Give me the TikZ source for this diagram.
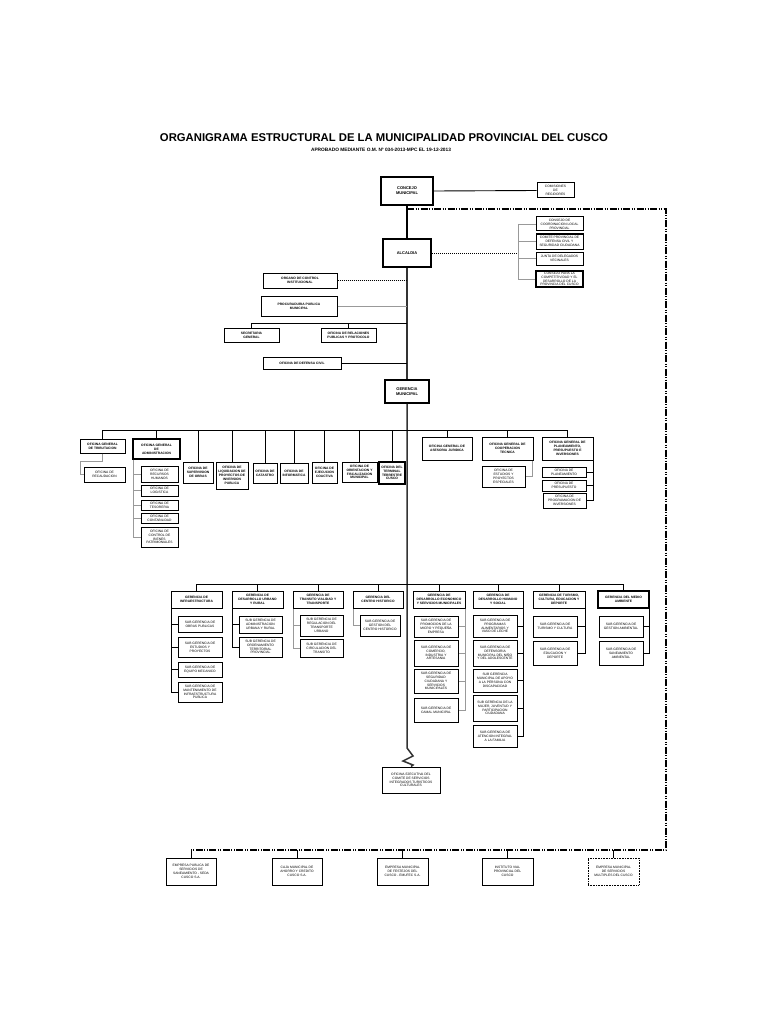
\documentclass[tikz,border=0pt]{standalone}
\usepackage{fontspec}
\setmainfont{Liberation Sans}
\newcommand{\bx}[7]{\node[#1, minimum width={(#5-#3)*1pt}, minimum height={(#6-#4)*1pt}] (#2) at ({(#3+#5)/2},{(#4+#6)/2}) {#7};}
\tikzset{
 bx/.style={draw=black, line width=1pt, inner sep=0pt, align=center, font=\fontsize{3.3}{3.9}\selectfont},
 bxb/.style={bx, font=\bfseries\fontsize{3.3}{3.9}\selectfont},
 bxl/.style={bx, font=\bfseries\fontsize{4}{4.8}\selectfont},
 thk/.style={line width=1.6pt},
 vthk/.style={line width=2.4pt},
 ln/.style={line width=0.9pt, draw=black},
 gln/.style={line width=0.9pt, draw=black!40},
 dd/.style={line width=1.1pt, dash pattern=on 7pt off 1.5pt on 1pt off 1.5pt on 1pt off 1.5pt},
 dotb/.style={bx, dash pattern=on 0.8pt off 0.8pt},
}
\begin{document}
\begin{tikzpicture}[x=1pt,y=-1pt]
\useasboundingbox (0,0) rectangle (768,1024);
\fill[white] (0,0) rectangle (768,1024);
% title
\node[font=\bfseries\fontsize{11.3}{13}\selectfont, inner sep=0pt] (title) at (384,138) {ORGANIGRAMA ESTRUCTURAL DE LA MUNICIPALIDAD PROVINCIAL DEL CUSCO};
\node[font=\bfseries\fontsize{4.8}{5}\selectfont, inner sep=0pt] (sub) at (381,150) {APROBADO MEDIANTE O.M. Nº 034-2013-MPC EL 19-12-2013};
% top
\bx{bxl,vthk}{conc}{381}{177}{433}{205}{CONCEJO\\MUNICIPAL}
\bx{bx}{com}{537}{183}{574}{198}{COMISIONES\\DE\\REGIDORES}
\bx{bxl,vthk}{alc}{383}{239}{431}{267}{ALCALDIA}
\bx{bx}{cA}{536}{217}{583}{231}{CONSEJO DE\\COORDINACION LOCAL\\PROVINCIAL}
\bx{bx}{cB}{536}{234}{583}{249}{COMITE PROVINCIAL DE\\DEFENSA CIVIL Y\\SEGURIDAD CIUDADANA}
\bx{bx}{cC}{536}{252}{583}{265}{JUNTA DE DELEGADOS\\VECINALES}
\bx{bx,thk}{cD}{536}{271}{583}{287}{CONSEJO PARA LA\\COMPETITIVIDAD Y EL\\DESARROLLO DE LA\\PROVINCIA DEL CUSCO}
\bx{bxb}{oci}{263}{273}{337}{288}{ORGANO DE CONTROL\\INSTITUCIONAL}
\bx{bxb}{proc}{261}{296}{337}{316}{PROCURADURIA PUBLICA\\MUNICIPAL}
\bx{bxb}{sec}{224}{328}{279}{342}{SECRETARIA\\GENERAL}
\bx{bxb}{orp}{321}{328}{376}{342}{OFICINA DE RELACIONES\\PUBLICAS Y PROTOCOLO}
\bx{bxb}{odc}{263}{357}{341}{369}{OFICINA DE DEFENSA CIVIL}
\bx{bxl,thk}{gm}{385}{380}{429}{403}{GERENCIA\\MUNICIPAL}
% oficinas
\bx{bxb}{trib}{80}{439}{125}{453}{OFICINA GENERAL\\DE TRIBUTACION}
\bx{bx}{rec}{84}{467}{125}{482}{OFICINA DE\\RECAUDACION}
\bx{bxb,thk}{adm}{133}{439}{180}{459}{OFICINA GENERAL\\DE\\ADMINISTRACION}
\bx{bx}{rh}{141}{466}{178}{482}{OFICINA DE\\RECURSOS\\HUMANOS}
\bx{bx}{log}{141}{485}{178}{496}{OFICINA DE\\LOGISTICA}
\bx{bx}{tes}{141}{500}{178}{510}{OFICINA DE\\TESORERIA}
\bx{bx}{cont}{141}{513}{178}{523}{OFICINA DE\\CONTABILIDAD}
\bx{bx}{cbp}{141}{527}{178}{547}{OFICINA DE\\CONTROL DE\\BIENES\\PATRIMONIALES}
\bx{bxb}{sup}{183}{462}{213}{483}{OFICINA DE\\SUPERVISION\\DE OBRAS}
\bx{bxb}{liq}{216}{462}{248}{489}{OFICINA DE\\LIQUIDACION DE\\PROYECTOS DE\\INVERSION\\PUBLICA}
\bx{bxb}{cat}{253}{463}{277}{483}{OFICINA DE\\CATASTRO}
\bx{bxb}{oinf}{280}{463}{308}{483}{OFICINA DE\\INFORMATICA}
\bx{bxb}{eje}{312}{462}{337}{483}{OFICINA DE\\EJECUCION\\COACTIVA}
\bx{bxb}{ori}{342}{462}{377}{482}{OFICINA DE\\ORIENTACION Y\\FISCALIZACION\\MUNICIPAL}
\bx{bxb,thk}{ter}{379}{462}{405}{484}{OFICINA DEL\\TERMINAL\\TERRESTRE\\CUSCO}
\bx{bxb}{jur}{422}{437}{472}{460}{OFICINA GENERAL DE\\ASESORIA JURIDICA}
\bx{bxb}{coop}{482}{437}{533}{460}{OFICINA GENERAL DE\\COOPERACION\\TECNICA}
\bx{bx}{est}{482}{466}{525}{487}{OFICINA DE\\ESTUDIOS Y\\PROYECTOS\\ESPECIALES}
\bx{bxb}{plan}{542}{437}{593}{460}{OFICINA GENERAL DE\\PLANEAMIENTO,\\PRESUPUESTO E\\INVERSIONES}
\bx{bx}{opl}{542}{467}{586}{477}{OFICINA DE\\PLANEAMIENTO}
\bx{bx}{opr}{542}{480}{586}{491}{OFICINA DE\\PRESUPUESTO}
\bx{bx}{opi}{543}{493}{586}{508}{OFICINA DE\\PROGRAMACION DE\\INVERSIONES}
% gerencias
\bx{bxb}{g1}{171}{591}{222}{608}{GERENCIA DE\\INFRAESTRUCTURA}
\bx{bxb}{g2}{232}{591}{283}{608}{GERENCIA DE\\DESARROLLO URBANO\\Y RURAL}
\bx{bxb}{g3}{293}{591}{343}{608}{GERENCIA DE\\TRANSITO VIALIDAD Y\\TRANSPORTE}
\bx{bxb}{g4}{353}{591}{403}{608}{GERENCIA DEL\\CENTRO HISTORICO}
\bx{bxb}{g5}{413}{591}{465}{608}{GERENCIA DE\\DESARROLLO ECONOMICO\\Y SERVICIOS MUNICIPALES}
\bx{bxb}{g6}{473}{591}{523}{608}{GERENCIA DE\\DESARROLLO HUMANO\\Y SOCIAL}
\bx{bxb}{g7}{533}{591}{585}{608}{GERENCIA DE TURISMO,\\CULTURA, EDUCACION Y\\DEPORTE}
\bx{bxb,thk}{g8}{598}{591}{649}{608}{GERENCIA DEL MEDIO\\AMBIENTE}
% sub gerencias
\bx{bx}{s11}{178}{616}{222}{632}{SUB GERENCIA DE\\OBRAS PUBLICAS}
\bx{bx}{s12}{178}{637}{222}{657}{SUB GERENCIA DE\\ESTUDIOS Y\\PROYECTOS}
\bx{bx}{s13}{178}{662}{222}{677}{SUB GERENCIA DE\\EQUIPO MECANICO}
\bx{bx}{s14}{178}{682}{222}{702}{SUB GERENCIA DE\\MANTENIMIENTO DE\\INFRAESTRUCTURA\\PUBLICA}
\bx{bx}{s21}{239}{616}{282}{633}{SUB GERENCIA DE\\ADMINISTRACION\\URBANA Y RURAL}
\bx{bx}{s22}{239}{637}{282}{657}{SUB GERENCIA DE\\ORDENAMIENTO\\TERRITORIAL\\PROVINCIAL}
\bx{bx}{s31}{300}{615}{343}{636}{SUB GERENCIA DE\\REGULACION DEL\\TRANSPORTE\\URBANO}
\bx{bx}{s32}{300}{639}{343}{657}{SUB GERENCIA DE\\CIRCULACION DEL\\TRANSITO}
\bx{bx}{s41}{360}{615}{400}{636}{SUB GERENCIA DE\\GESTION DEL\\CENTRO HISTORICO}
\bx{bx}{s51}{414}{616}{458}{637}{SUB GERENCIA DE\\PROMOCION DE LA\\MICRO Y PEQUEÑA\\EMPRESA}
\bx{bx}{s52}{414}{640}{458}{666}{SUB GERENCIA DE\\COMERCIO,\\INDUSTRIA Y\\ARTESANIA}
\bx{bx}{s53}{414}{669}{458}{693}{SUB GERENCIA DE\\SEGURIDAD\\CIUDADANA Y\\SERVICIOS\\MUNICIPALES}
\bx{bx}{s54}{414}{698}{458}{722}{SUB GERENCIA DE\\CAMAL MUNICIPAL}
\bx{bx}{s61}{473}{615}{517}{637}{SUB GERENCIA DE\\PROGRAMAS\\ALIMENTARIOS Y\\VASO DE LECHE}
\bx{bx}{s62}{473}{640}{517}{666}{SUB GERENCIA DE\\DEFENSORIA\\MUNICIPAL DEL NIÑO\\Y DEL ADOLESCENTE}
\bx{bx}{s63}{473}{669}{517}{692}{SUB GERENCIA\\MUNICIPAL DE APOYO\\A LA PERSONA CON\\DISCAPACIDAD}
\bx{bx}{s64}{473}{695}{517}{721}{SUB GERENCIA DE LA\\MUJER, JUVENTUD Y\\PARTICIPACION\\CIUDADANA}
\bx{bx}{s65}{473}{725}{517}{747}{SUB GERENCIA DE\\ATENCION INTEGRAL\\A LA FAMILIA}
\bx{bx}{s71}{533}{616}{577}{637}{SUB GERENCIA DE\\TURISMO Y CULTURA}
\bx{bx}{s72}{533}{641}{577}{665}{SUB GERENCIA DE\\EDUCACION Y\\DEPORTE}
\bx{bx}{s81}{599}{616}{643}{637}{SUB GERENCIA DE\\GESTION AMBIENTAL}
\bx{bx}{s82}{599}{641}{643}{665}{SUB GERENCIA DE\\SANEAMIENTO\\AMBIENTAL}
% bottom
\bx{bx}{ofe}{382}{767}{440}{793}{OFICINA EJECUTIVA DEL\\COMITE DE SERVICIOS\\INTEGRADOS TURISTICOS\\CULTURALES}
\bx{bx}{e1}{166}{858}{216}{885}{EMPRESA PUBLICA DE\\SERVICIOS DE\\SANEAMIENTO - SEDA\\CUSCO S.A.}
\bx{bx}{e2}{272}{858}{322}{885}{CAJA MUNICIPAL DE\\AHORRO Y CREDITO\\CUSCO S.A.}
\bx{bx}{e3}{377}{858}{428}{885}{EMPRESA MUNICIPAL\\DE FESTEJOS DEL\\CUSCO - EMUFEC S.A.}
\bx{bx}{e4}{482}{858}{533}{885}{INSTITUTO VIAL\\PROVINCIAL DEL\\CUSCO}
\bx{dotb}{e5}{588}{858}{639}{885}{EMPRESA MUNICIPAL\\DE SERVICIOS\\MULTIPLES DEL CUSCO}
% ---------- connectors ----------
\draw[line width=2pt] (conc.south) -- (alc.north);
\coordinate (zz) at (407,748);
\draw[line width=1.5pt, black!80] (alc.south) -- (gm.north);
\draw[line width=1.5pt, black!80] (gm.south) -- (zz) -- ++(6,8) -- ++(-10,5) -- ++(10,4) -- (ofe.north);
\draw[ln] (conc.east) -- (com.west);
% dash-dot frame
\coordinate (dA) at (666,209);
\coordinate (dB) at (666,850);
\draw[dd] (conc.south |- dA) -- (dA) -- (dB) -- (e1.north |- dB);
\foreach \e in {e1,e2,e3,e4,e5} \draw[ln] (\e.north) -- (\e.north |- dB);
% alcaldia consejos
\coordinate (brk) at (518,253);
\draw[line width=1pt, densely dotted] (alc.east) -- (brk);
\draw[gln] (brk |- cA.west) -- (brk |- cD.west);
\foreach \c in {cA,cB,cC,cD} \draw[gln] (brk |- \c.west) -- (\c.west);
% staff
\draw[line width=1pt, densely dotted] (oci.east) -- (oci.east -| conc.south);
\draw[gln] (proc.east) -- (proc.east -| conc.south);
\coordinate (h1) at (407,323);
\draw[ln] (sec.north) |- (h1);
\draw[ln] (orp.north) -- (orp.north |- h1);
\draw[ln] (odc.east) -- (odc.east -| h1);
% oficinas bus
\coordinate (bo) at (407,430);
\draw[ln] (trib.north |- bo) -- (plan.north |- bo);
\foreach \o in {trib,adm,sup,liq,cat,oinf,eje,ori,ter,jur,coop,plan} \draw[ln] (\o.north) -- (\o.north |- bo);
\draw[gln] (trib.south) |- ++(-22,8) |- (rec.west);
\foreach \o in {rh,log,tes,cont,cbp} \draw[gln] ([xshift=1pt]adm.south west) |- (\o.west);
\draw[gln] ([xshift=-1pt]coop.south east) |- (est.east);
\foreach \o in {opl,opr,opi} \draw[ln] ([xshift=-0.5pt]plan.south east) |- (\o.east);
% gerencias bus
\coordinate (bg) at (407,584);
\draw[ln] (g1.north |- bg) -- (g8.north |- bg);
\foreach \g in {g1,g2,g3,g4,g5,g6,g7,g8} \draw[ln] (\g.north) -- (\g.north |- bg);
\foreach \s in {s11,s12,s13,s14} \draw[ln] ([xshift=1pt]g1.south west) |- (\s.west);
\foreach \s in {s21,s22} \draw[ln] ([xshift=1pt]g2.south west) |- (\s.west);
\foreach \s in {s31,s32} \draw[gln] ([xshift=1pt]g3.south west) |- (\s.west);
\draw[gln] ([xshift=1pt]g4.south west) |- (s41.west);
\foreach \s in {s51,s52,s53,s54} \draw[gln] ([xshift=-0.5pt]g5.south east) |- (\s.east);
\foreach \s in {s61,s62,s63,s64,s65} \draw[ln] ([xshift=-0.5pt]g6.south east) |- (\s.east);
\foreach \s in {s71,s72} \draw[ln] ([xshift=-0.5pt]g7.south east) |- (\s.east);
\foreach \s in {s81,s82} \draw[ln] ([xshift=-0.5pt]g8.south east) |- (\s.east);
\end{tikzpicture}
\end{document}
